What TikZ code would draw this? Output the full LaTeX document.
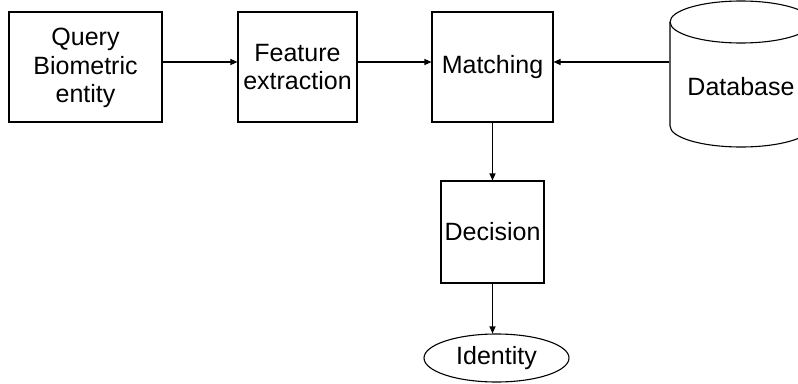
\documentclass[tikz,border=0pt]{standalone}
\usepackage{fontspec}
\setmainfont{Liberation Sans}
\usetikzlibrary{arrows.meta,shapes.geometric}

\begin{document}
\begin{tikzpicture}[
    x=1pt, y=1pt,
    line width=1.1pt,
    every node/.style={font=\fontsize{25}{28.5}\selectfont, align=center, inner sep=0pt},
    block/.style={draw, rectangle, minimum height=110},
    terminal/.style={draw, ellipse},
    flow/.style={-{Triangle[length=7pt,width=6pt]}}
]
\useasboundingbox (0,0) rectangle (798,-383);
% pipeline boxes
\node[block, minimum width=153, text depth=3pt] (query) at (85.5,-67) {Query\\Biometric\\entity};
\node[block, minimum width=119] (feature) at (297.5,-67) {Feature\\extraction};
\node[block, minimum width=121] (matching) at (492.5,-67) {Matching};
\node[block, minimum width=103, minimum height=102] (decision) at (492.5,-232) {Decision};
\node[terminal, minimum width=145, minimum height=48] (identity) at (496.5,-358) {Identity};
% database drum
\draw (741,-22) ellipse [x radius=71, y radius=21];
\draw (670,-22) -- (670,-126) arc[start angle=180, end angle=360, x radius=71, y radius=21] -- (812,-22);
\node[minimum width=142] (database) at (741,-87) {Database};
% connectors
\draw[flow] ([yshift=5pt]query.east) -- ([yshift=5pt]feature.west);
\draw[flow] ([yshift=5pt]feature.east) -- ([yshift=5pt]matching.west);
\draw[flow] ([yshift=5pt]matching.east -| database.west) -- ([yshift=5pt]matching.east);
\draw[flow] (matching.south) -- (decision.north);
\draw[flow] (decision.south) -- (decision.south |- identity.north);
\end{tikzpicture}
\end{document}
